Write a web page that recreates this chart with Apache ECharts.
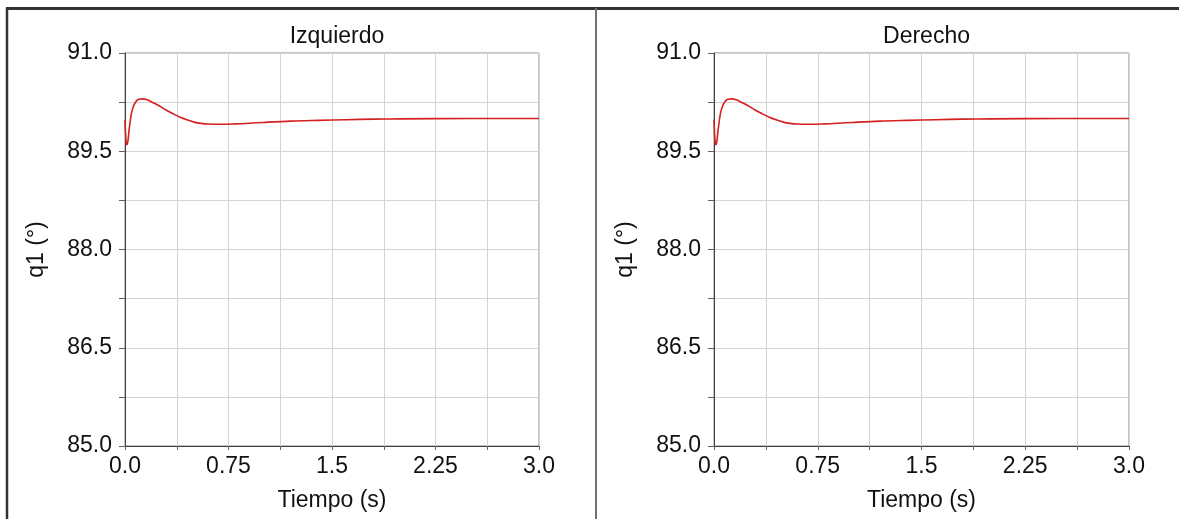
<!DOCTYPE html>
<html>
<head>
<meta charset="utf-8">
<script src="https://cdn.jsdelivr.net/npm/echarts@6/dist/echarts.min.js"></script>
<style>
html,body{margin:0;padding:0;background:#fff;}
#chart{width:1179px;height:519px;}
</style>
</head>
<body>
<div id="chart"></div>
<script>
// ---- data ----
const panelTitles = ['Izquierdo', 'Derecho'];
const timeS   = [0, 0.005, 0.012, 0.02, 0.03, 0.045, 0.06, 0.08, 0.1, 0.13, 0.16, 0.2, 0.25, 0.3, 0.35, 0.4, 0.45, 0.5, 0.55, 0.6, 0.7, 0.8, 0.9, 1.0, 1.2, 1.4, 1.6, 1.8, 2.0, 2.5, 3.0];
const leftQ1  = [89.98, 89.75, 89.6, 89.64, 89.83, 90.06, 90.18, 90.26, 90.295, 90.30, 90.285, 90.245, 90.19, 90.125, 90.07, 90.02, 89.98, 89.945, 89.925, 89.915, 89.912, 89.918, 89.928, 89.94, 89.96, 89.972, 89.982, 89.99, 89.995, 90.0, 90.0];
const rightQ1 = [89.98, 89.75, 89.6, 89.64, 89.83, 90.06, 90.18, 90.26, 90.295, 90.30, 90.285, 90.245, 90.19, 90.125, 90.07, 90.02, 89.98, 89.945, 89.925, 89.915, 89.912, 89.918, 89.928, 89.94, 89.96, 89.972, 89.982, 89.99, 89.995, 90.0, 90.0];
const xTickLabels = ['0.0', '0.75', '1.5', '2.25', '3.0'];
const yTickLabels = ['85.0', '86.5', '88.0', '89.5', '91.0'];
const xAxisName = 'Tiempo (s)';
const yAxisName = 'q1 (°)';

// ---- build options ----
const FONT = 'Liberation Sans, Arial, sans-serif';
function pairs(xs, ys){ return xs.map((x,i)=>[x, ys[i]]); }
function xFmt(v){
  const k = v / 0.75, r = Math.round(k);
  return Math.abs(k - r) < 1e-6 ? (xTickLabels[r] || '') : '';
}
function yFmt(v){
  const k = (v - 85) / 1.5, r = Math.round(k);
  return Math.abs(k - r) < 1e-6 ? (yTickLabels[r] || '') : '';
}
const grids = [
  {left:125, top:53, width:414, height:393},
  {left:714, top:53, width:415, height:393}
];
const seriesData = [leftQ1, rightQ1];

const option = {
  animation:false,
  backgroundColor:'#ffffff',
  title: panelTitles.map((t,i)=>({
    text:t, left: grids[i].left + grids[i].width/2, top:20, textAlign:'center',
    textStyle:{fontFamily:FONT, fontSize:23, fontWeight:'normal', color:'#111'}
  })),
  grid: grids.map(g=>Object.assign({show:true, borderColor:'#8a8a8a', borderWidth:1, backgroundColor:'transparent'}, g)),
  xAxis: grids.map((g,i)=>({
    type:'value', gridIndex:i, min:0, max:3, interval:0.375,
    name:xAxisName, nameLocation:'middle', nameGap:43,
    nameTextStyle:{fontFamily:FONT, fontSize:23, color:'#111'},
    axisLine:{show:true, onZero:false, lineStyle:{color:'#404040', width:1}},
    axisTick:{show:true, length:4, lineStyle:{color:'#606060'}},
    axisLabel:{formatter:xFmt, margin:9, fontFamily:FONT, fontSize:23, color:'#111', showMinLabel:true, showMaxLabel:true},
    splitLine:{show:true, lineStyle:{color:'#d4d4d4', width:1}}
  })),
  yAxis: grids.map((g,i)=>({
    type:'value', gridIndex:i, min:85, max:91, interval:0.75,
    name:yAxisName, nameLocation:'middle', nameGap:77, nameRotate:90,
    nameTextStyle:{fontFamily:FONT, fontSize:23, color:'#111'},
    axisLine:{show:true, onZero:false, lineStyle:{color:'#404040', width:1}},
    axisTick:{show:true, length:6, lineStyle:{color:'#606060'}},
    axisLabel:{formatter:yFmt, margin:13, fontFamily:FONT, fontSize:23, color:'#111', showMinLabel:true, showMaxLabel:true},
    splitLine:{show:true, lineStyle:{color:'#d4d4d4', width:1}}
  })),
  series: seriesData.map((d,i)=>({
    type:'line', xAxisIndex:i, yAxisIndex:i, data:pairs(timeS, d),
    smooth:0.35, showSymbol:false, symbol:'none',
    lineStyle:{color:'#d42020', width:1.6}
  })),
  graphic:[
    {type:'line', shape:{x1:6, y1:8.5, x2:1179, y2:8.5}, style:{stroke:'#333', lineWidth:3}, z:100},
    {type:'line', shape:{x1:7, y1:8, x2:7, y2:519}, style:{stroke:'#333', lineWidth:2.5}, z:100},
    {type:'line', shape:{x1:596, y1:8, x2:596, y2:519}, style:{stroke:'#707070', lineWidth:2}, z:100}
  ]
};
const chart = echarts.init(document.getElementById('chart'), null, {renderer:'canvas'});
chart.setOption(option);
</script>
</body>
</html>
